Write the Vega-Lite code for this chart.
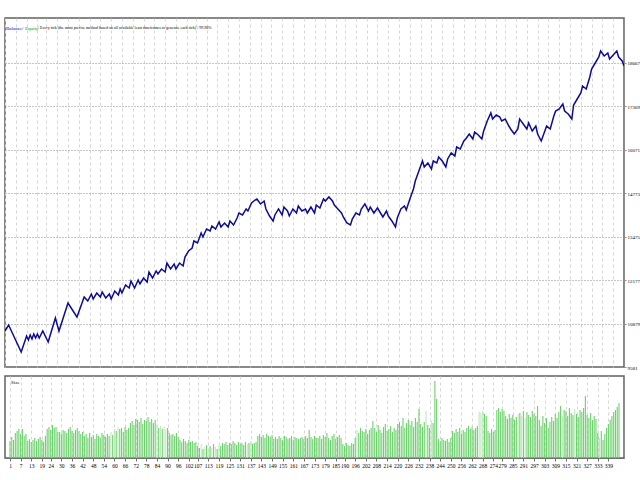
{
  "$schema": "https://vega.github.io/schema/vega-lite/v6.json",
  "background": "#ffffff",
  "padding": {"left": 4, "top": 17, "right": 0, "bottom": 0},
  "spacing": 4,
  "config": {
    "view": {"stroke": "#606060", "strokeWidth": 1.5, "fill": "#ffffff"},
    "axis": {"labelFont": "Liberation Sans Narrow", "labelFontSize": 6, "labelColor": "#000000", "title": null}
  },
  "vconcat": [
    {
      "width": 619,
      "height": 349,
      "layer": [
        {
          "data": {"values": [
            {"t":1,"v":10655},{"t":3,"v":10834},{"t":10,"v":10029},{"t":13,"v":10506},{"t":14,"v":10387},{"t":15,"v":10536},{"t":16,"v":10417},{"t":17,"v":10566},{"t":18,"v":10446},{"t":19,"v":10566},{"t":20,"v":10446},{"t":22,"v":10655},{"t":25,"v":10327},{"t":29,"v":11043},{"t":31,"v":10655},{"t":36,"v":11491},{"t":41,"v":11073},{"t":44,"v":11521},{"t":45,"v":11670},{"t":47,"v":11550},{"t":49,"v":11759},{"t":50,"v":11610},{"t":52,"v":11789},{"t":54,"v":11670},{"t":55,"v":11819},{"t":57,"v":11640},{"t":59,"v":11759},{"t":60,"v":11610},{"t":62,"v":11849},{"t":64,"v":11729},{"t":65,"v":11909},{"t":66,"v":11789},{"t":68,"v":12028},{"t":70,"v":11938},{"t":71,"v":12147},{"t":73,"v":11938},{"t":75,"v":12177},{"t":76,"v":12058},{"t":78,"v":12237},{"t":80,"v":12117},{"t":81,"v":12416},{"t":83,"v":12237},{"t":85,"v":12446},{"t":86,"v":12356},{"t":88,"v":12505},{"t":90,"v":12416},{"t":91,"v":12684},{"t":93,"v":12505},{"t":95,"v":12655},{"t":96,"v":12505},{"t":98,"v":12684},{"t":100,"v":12595},{"t":101,"v":12863},{"t":103,"v":13042},{"t":105,"v":13132},{"t":106,"v":13341},{"t":108,"v":13281},{"t":110,"v":13580},{"t":111,"v":13460},{"t":113,"v":13699},{"t":115,"v":13639},{"t":116,"v":13788},{"t":118,"v":13699},{"t":120,"v":13908},{"t":121,"v":13759},{"t":123,"v":13878},{"t":125,"v":13759},{"t":126,"v":13938},{"t":128,"v":13818},{"t":130,"v":14027},{"t":131,"v":14176},{"t":133,"v":14117},{"t":135,"v":14296},{"t":136,"v":14236},{"t":138,"v":14475},{"t":140,"v":14564},{"t":141,"v":14594},{"t":143,"v":14445},{"t":145,"v":14534},{"t":146,"v":14296},{"t":148,"v":14087},{"t":150,"v":13938},{"t":151,"v":14117},{"t":153,"v":14296},{"t":155,"v":14117},{"t":156,"v":14355},{"t":158,"v":14236},{"t":159,"v":14087},{"t":161,"v":14296},{"t":163,"v":14176},{"t":164,"v":14385},{"t":166,"v":14236},{"t":168,"v":14296},{"t":169,"v":14176},{"t":171,"v":14355},{"t":173,"v":14176},{"t":174,"v":14415},{"t":176,"v":14326},{"t":178,"v":14594},{"t":179,"v":14534},{"t":181,"v":14654},{"t":183,"v":14534},{"t":184,"v":14415},{"t":186,"v":14296},{"t":188,"v":14176},{"t":189,"v":14057},{"t":191,"v":13878},{"t":193,"v":13818},{"t":194,"v":13997},{"t":196,"v":14176},{"t":198,"v":14117},{"t":199,"v":14296},{"t":201,"v":14445},{"t":203,"v":14236},{"t":204,"v":14355},{"t":206,"v":14176},{"t":208,"v":14326},{"t":209,"v":14236},{"t":211,"v":14057},{"t":213,"v":14236},{"t":214,"v":14087},{"t":216,"v":13938},{"t":218,"v":13759},{"t":219,"v":14027},{"t":221,"v":14296},{"t":223,"v":14385},{"t":224,"v":14266},{"t":226,"v":14594},{"t":228,"v":14893},{"t":229,"v":15131},{"t":231,"v":15430},{"t":233,"v":15728},{"t":234,"v":15549},{"t":236,"v":15668},{"t":238,"v":15489},{"t":239,"v":15728},{"t":241,"v":15668},{"t":242,"v":15847},{"t":244,"v":15728},{"t":246,"v":15549},{"t":247,"v":15788},{"t":249,"v":15967},{"t":251,"v":15877},{"t":252,"v":16146},{"t":254,"v":16086},{"t":256,"v":16325},{"t":257,"v":16385},{"t":259,"v":16534},{"t":261,"v":16385},{"t":262,"v":16593},{"t":264,"v":16504},{"t":266,"v":16385},{"t":267,"v":16623},{"t":269,"v":16922},{"t":271,"v":17160},{"t":272,"v":16981},{"t":274,"v":17101},{"t":276,"v":17041},{"t":277,"v":16922},{"t":279,"v":16981},{"t":281,"v":16772},{"t":282,"v":16683},{"t":284,"v":16534},{"t":286,"v":16683},{"t":287,"v":16981},{"t":289,"v":16832},{"t":291,"v":16683},{"t":292,"v":16862},{"t":294,"v":16623},{"t":296,"v":16772},{"t":297,"v":16534},{"t":299,"v":16325},{"t":301,"v":16623},{"t":302,"v":16772},{"t":304,"v":16683},{"t":306,"v":17071},{"t":307,"v":17220},{"t":309,"v":17280},{"t":311,"v":17429},{"t":312,"v":17220},{"t":314,"v":17131},{"t":316,"v":16981},{"t":317,"v":17399},{"t":319,"v":17578},{"t":321,"v":17757},{"t":322,"v":17966},{"t":324,"v":17877},{"t":326,"v":18235},{"t":327,"v":18473},{"t":329,"v":18652},{"t":331,"v":18831},{"t":332,"v":19010},{"t":334,"v":18861},{"t":336,"v":18951},{"t":337,"v":18772},{"t":339,"v":18891},{"t":341,"v":19010},{"t":342,"v":18831},{"t":344,"v":18712},{"t":345,"v":18563}
          ]},
          "mark": {"type": "line", "color": "#0c0c94", "strokeWidth": 1.5, "clip": true},
          "encoding": {
            "x": {"field": "t", "type": "quantitative",
                  "scale": {"domain": [1, 345], "nice": false, "zero": false},
                  "axis": {"values": [1,7,13,19,24,30,36,42,48,54,60,66,72,78,84,90,96,102,107,113,119,125,131,137,143,149,155,161,167,173,179,185,190,196,202,208,214,220,226,232,238,244,250,256,262,268,274,279,285,291,297,303,309,315,321,327,333,339],
                           "tickCount": 200,
                           "grid": true, "gridDash": [3, 3], "gridColor": "#d6d6d6", "labels": false, "ticks": false, "domain": false}},
            "y": {"field": "v", "type": "quantitative",
                  "scale": {"domain": [9581, 19995], "nice": false, "zero": false},
                  "axis": {"orient": "right", "values": [9581,10879,12177,13475,14773,16071,17369,18667], "format": "d", "tickCount": 50,
                           "grid": true, "gridDash": [1, 2], "gridColor": "#8c8c8c", "tickSize": 2, "tickColor": "#8c8c8c",
                           "domainColor": "#8c8c8c", "labelPadding": 1, "labelFontSize": 5}}
          }
        },
        {
          "data": {"values": [{"label": "Balance"}]},
          "mark": {"type": "text", "align": "left", "baseline": "middle", "font": "Liberation Sans Narrow", "fontSize": 5, "color": "#0000c8", "dx": 1},
          "encoding": {"x": {"datum": 1, "type": "quantitative"}, "y": {"datum": 19697, "type": "quantitative"}, "text": {"field": "label"}}
        },
        {
          "data": {"values": [{"label": "/"}]},
          "mark": {"type": "text", "align": "left", "baseline": "middle", "font": "Liberation Sans Narrow", "fontSize": 5, "color": "#000000", "dx": 17},
          "encoding": {"x": {"datum": 1, "type": "quantitative"}, "y": {"datum": 19697, "type": "quantitative"}, "text": {"field": "label"}}
        },
        {
          "data": {"values": [{"label": "Equity"}]},
          "mark": {"type": "text", "align": "left", "baseline": "middle", "font": "Liberation Sans Narrow", "fontSize": 5, "color": "#00a000", "dx": 20},
          "encoding": {"x": {"datum": 1, "type": "quantitative"}, "y": {"datum": 19697, "type": "quantitative"}, "text": {"field": "label"}}
        },
        {
          "data": {"values": [{"label": "/ Every tick (the most precise method based on all available least timeframes to generate each tick) / 99.90%"}]},
          "mark": {"type": "text", "align": "left", "baseline": "middle", "font": "Liberation Sans Narrow", "fontSize": 4, "color": "#000000", "dx": 33},
          "encoding": {"x": {"datum": 1, "type": "quantitative"}, "y": {"datum": 19697, "type": "quantitative"}, "text": {"field": "label"}}
        }
      ]
    },
    {
      "width": 619,
      "height": 82,
      "layer": [
        {
          "data": {"values": [
{"t":1,"s":17,"c":"d"},{"t":2,"s":21,"c":"d"},{"t":3,"s":18,"c":"d"},{"t":4,"s":25,"c":"d"},{"t":5,"s":27,"c":"d"},{"t":6,"s":29,"c":"d"},{"t":7,"s":24,"c":"d"},{"t":8,"s":29,"c":"d"},{"t":9,"s":22,"c":"d"},{"t":10,"s":24,"c":"d"},
{"t":11,"s":17,"c":"d"},{"t":12,"s":19,"c":"d"},{"t":13,"s":16,"c":"d"},{"t":14,"s":18,"c":"d"},{"t":15,"s":20,"c":"d"},{"t":16,"s":17,"c":"d"},{"t":17,"s":19,"c":"d"},{"t":18,"s":21,"c":"d"},{"t":19,"s":18,"c":"d"},{"t":20,"s":16,"c":"d"},
{"t":21,"s":22,"c":"d"},{"t":22,"s":29,"c":"d"},{"t":23,"s":31,"c":"d"},{"t":24,"s":28,"c":"d"},{"t":25,"s":33,"c":"d"},{"t":26,"s":30,"c":"d"},{"t":27,"s":31,"c":"d"},{"t":28,"s":26,"c":"d"},
{"t":29,"s":26,"c":"d"},{"t":30,"s":24,"c":"d"},{"t":31,"s":28,"c":"d"},{"t":32,"s":27,"c":"d"},{"t":33,"s":25,"c":"d"},{"t":34,"s":29,"c":"d"},{"t":35,"s":31,"c":"d"},{"t":36,"s":27,"c":"d"},{"t":37,"s":25,"c":"d"},{"t":38,"s":28,"c":"d"},{"t":39,"s":30,"c":"d"},{"t":40,"s":27,"c":"d"},{"t":41,"s":24,"c":"d"},{"t":42,"s":26,"c":"d"},
{"t":43,"s":22,"c":"d"},{"t":44,"s":24,"c":"d"},{"t":45,"s":20,"c":"d"},{"t":46,"s":25,"c":"d"},{"t":47,"s":21,"c":"d"},{"t":48,"s":23,"c":"d"},{"t":49,"s":19,"c":"d"},{"t":50,"s":24,"c":"d"},{"t":51,"s":22,"c":"d"},{"t":52,"s":20,"c":"d"},{"t":53,"s":25,"c":"d"},{"t":54,"s":23,"c":"d"},{"t":55,"s":21,"c":"d"},{"t":56,"s":24,"c":"d"},{"t":57,"s":22,"c":"d"},{"t":58,"s":26,"c":"l"},{"t":59,"s":23,"c":"d"},
{"t":60,"s":29,"c":"l"},{"t":61,"s":27,"c":"d"},{"t":62,"s":31,"c":"l"},{"t":63,"s":29,"c":"d"},{"t":64,"s":30,"c":"d"},{"t":65,"s":26,"c":"d"},{"t":66,"s":31,"c":"d"},{"t":67,"s":28,"c":"d"},{"t":68,"s":30,"c":"d"},
{"t":69,"s":35,"c":"d"},{"t":70,"s":37,"c":"d"},{"t":71,"s":33,"c":"d"},{"t":72,"s":39,"c":"d"},{"t":73,"s":38,"c":"d"},{"t":74,"s":36,"c":"d"},{"t":75,"s":40,"c":"d"},{"t":76,"s":34,"c":"d"},{"t":77,"s":38,"c":"d"},{"t":78,"s":37,"c":"d"},{"t":79,"s":41,"c":"d"},{"t":80,"s":36,"c":"d"},{"t":81,"s":39,"c":"d"},{"t":82,"s":35,"c":"d"},{"t":83,"s":38,"c":"d"},{"t":84,"s":33,"c":"l"},
{"t":85,"s":30,"c":"d"},{"t":86,"s":32,"c":"l"},{"t":87,"s":29,"c":"d"},{"t":88,"s":31,"c":"l"},{"t":89,"s":28,"c":"l"},{"t":90,"s":30,"c":"d"},
{"t":91,"s":25,"c":"d"},{"t":92,"s":23,"c":"d"},{"t":93,"s":24,"c":"d"},{"t":94,"s":22,"c":"d"},{"t":95,"s":25,"c":"d"},{"t":96,"s":21,"c":"d"},
{"t":97,"s":18,"c":"d"},{"t":98,"s":16,"c":"d"},{"t":99,"s":19,"c":"d"},{"t":100,"s":17,"c":"d"},{"t":101,"s":15,"c":"d"},{"t":102,"s":18,"c":"d"},{"t":103,"s":16,"c":"d"},{"t":104,"s":17,"c":"d"},{"t":105,"s":15,"c":"d"},{"t":106,"s":16,"c":"d"},
{"t":107,"s":12,"c":"d"},{"t":108,"s":10,"c":"d"},{"t":109,"s":14,"c":"l"},{"t":110,"s":9,"c":"d"},{"t":111,"s":11,"c":"l"},{"t":112,"s":13,"c":"d"},{"t":113,"s":8,"c":"l"},{"t":114,"s":12,"c":"d"},{"t":115,"s":10,"c":"l"},{"t":116,"s":14,"c":"d"},{"t":117,"s":11,"c":"l"},{"t":118,"s":9,"c":"d"},{"t":119,"s":13,"c":"l"},{"t":120,"s":12,"c":"d"},
{"t":121,"s":15,"c":"d"},{"t":122,"s":14,"c":"d"},{"t":123,"s":16,"c":"d"},{"t":124,"s":13,"c":"d"},{"t":125,"s":15,"c":"d"},{"t":126,"s":14,"c":"d"},{"t":127,"s":17,"c":"d"},{"t":128,"s":15,"c":"d"},{"t":129,"s":13,"c":"d"},{"t":130,"s":16,"c":"d"},{"t":131,"s":14,"c":"d"},{"t":132,"s":15,"c":"d"},{"t":133,"s":13,"c":"d"},{"t":134,"s":16,"c":"d"},{"t":135,"s":14,"c":"l"},{"t":136,"s":15,"c":"d"},{"t":137,"s":17,"c":"l"},{"t":138,"s":14,"c":"d"},{"t":139,"s":15,"c":"d"},{"t":140,"s":16,"c":"d"},
{"t":141,"s":22,"c":"d"},{"t":142,"s":24,"c":"d"},{"t":143,"s":21,"c":"d"},{"t":144,"s":23,"c":"d"},{"t":145,"s":20,"c":"d"},{"t":146,"s":24,"c":"d"},{"t":147,"s":22,"c":"d"},{"t":148,"s":21,"c":"d"},{"t":149,"s":23,"c":"d"},{"t":150,"s":19,"c":"d"},
{"t":151,"s":21,"c":"d"},{"t":152,"s":19,"c":"d"},{"t":153,"s":22,"c":"d"},{"t":154,"s":20,"c":"d"},{"t":155,"s":18,"c":"d"},{"t":156,"s":22,"c":"d"},{"t":157,"s":21,"c":"d"},{"t":158,"s":19,"c":"d"},{"t":159,"s":20,"c":"d"},{"t":160,"s":22,"c":"d"},{"t":161,"s":18,"c":"d"},{"t":162,"s":21,"c":"d"},{"t":163,"s":20,"c":"d"},{"t":164,"s":19,"c":"d"},
{"t":165,"s":20,"c":"d"},{"t":166,"s":21,"c":"d"},{"t":167,"s":19,"c":"d"},{"t":168,"s":22,"c":"d"},{"t":169,"s":20,"c":"d"},{"t":170,"s":28,"c":"d"},{"t":171,"s":21,"c":"d"},{"t":172,"s":19,"c":"d"},{"t":173,"s":22,"c":"d"},{"t":174,"s":20,"c":"d"},
{"t":175,"s":20,"c":"d"},{"t":176,"s":22,"c":"d"},{"t":177,"s":19,"c":"d"},{"t":178,"s":23,"c":"d"},{"t":179,"s":21,"c":"d"},{"t":180,"s":25,"c":"d"},{"t":181,"s":20,"c":"d"},{"t":182,"s":18,"c":"d"},{"t":183,"s":22,"c":"d"},{"t":184,"s":24,"c":"d"},{"t":185,"s":19,"c":"d"},{"t":186,"s":21,"c":"d"},{"t":187,"s":23,"c":"d"},{"t":188,"s":20,"c":"d"},
{"t":189,"s":14,"c":"d"},{"t":190,"s":12,"c":"d"},{"t":191,"s":15,"c":"d"},{"t":192,"s":13,"c":"d"},{"t":193,"s":12,"c":"d"},{"t":194,"s":15,"c":"d"},{"t":195,"s":14,"c":"d"},{"t":196,"s":20,"c":"d"},
{"t":197,"s":28,"c":"l"},{"t":198,"s":25,"c":"d"},{"t":199,"s":30,"c":"d"},{"t":200,"s":27,"c":"d"},{"t":201,"s":26,"c":"d"},{"t":202,"s":29,"c":"d"},{"t":203,"s":24,"c":"d"},{"t":204,"s":28,"c":"d"},{"t":205,"s":30,"c":"d"},{"t":206,"s":37,"c":"d"},
{"t":207,"s":30,"c":"d"},{"t":208,"s":26,"c":"d"},{"t":209,"s":33,"c":"d"},{"t":210,"s":28,"c":"d"},{"t":211,"s":25,"c":"d"},{"t":212,"s":31,"c":"d"},{"t":213,"s":34,"c":"d"},{"t":214,"s":27,"c":"d"},{"t":215,"s":29,"c":"d"},{"t":216,"s":32,"c":"d"},{"t":217,"s":26,"c":"d"},{"t":218,"s":30,"c":"d"},{"t":219,"s":28,"c":"d"},{"t":220,"s":34,"c":"d"},
{"t":221,"s":36,"c":"d"},{"t":222,"s":32,"c":"d"},{"t":223,"s":40,"c":"d"},{"t":224,"s":30,"c":"d"},{"t":225,"s":35,"c":"d"},{"t":226,"s":38,"c":"d"},{"t":227,"s":33,"c":"d"},{"t":228,"s":37,"c":"d"},{"t":229,"s":31,"c":"d"},{"t":230,"s":40,"c":"d"},{"t":231,"s":36,"c":"d"},{"t":232,"s":49,"c":"d"},
{"t":233,"s":34,"c":"d"},{"t":234,"s":31,"c":"d"},{"t":235,"s":36,"c":"d"},{"t":236,"s":47,"c":"l"},{"t":237,"s":33,"c":"d"},{"t":238,"s":30,"c":"d"},{"t":239,"s":37,"c":"l"},{"t":240,"s":35,"c":"d"},
{"t":241,"s":77,"c":"d"},{"t":242,"s":59,"c":"d"},
{"t":243,"s":19,"c":"d"},{"t":244,"s":17,"c":"d"},{"t":245,"s":20,"c":"d"},{"t":246,"s":18,"c":"d"},{"t":247,"s":17,"c":"d"},{"t":248,"s":19,"c":"d"},{"t":249,"s":16,"c":"d"},{"t":250,"s":20,"c":"d"},
{"t":251,"s":27,"c":"d"},{"t":252,"s":25,"c":"d"},{"t":253,"s":29,"c":"d"},{"t":254,"s":26,"c":"d"},{"t":255,"s":30,"c":"d"},{"t":256,"s":24,"c":"d"},{"t":257,"s":28,"c":"d"},{"t":258,"s":26,"c":"d"},
{"t":259,"s":30,"c":"d"},{"t":260,"s":32,"c":"d"},{"t":261,"s":29,"c":"d"},{"t":262,"s":31,"c":"d"},{"t":263,"s":28,"c":"d"},{"t":264,"s":30,"c":"d"},{"t":265,"s":32,"c":"d"},
{"t":266,"s":46,"c":"l"},{"t":267,"s":45,"c":"l"},{"t":268,"s":47,"c":"l"},{"t":269,"s":44,"c":"d"},{"t":270,"s":42,"c":"d"},
{"t":271,"s":27,"c":"d"},{"t":272,"s":25,"c":"d"},{"t":273,"s":29,"c":"d"},{"t":274,"s":26,"c":"d"},{"t":275,"s":28,"c":"d"},
{"t":276,"s":48,"c":"d"},{"t":277,"s":50,"c":"d"},{"t":278,"s":46,"c":"d"},{"t":279,"s":49,"c":"d"},{"t":280,"s":47,"c":"d"},
{"t":281,"s":42,"c":"d"},{"t":282,"s":39,"c":"d"},{"t":283,"s":44,"c":"d"},{"t":284,"s":40,"c":"d"},{"t":285,"s":43,"c":"d"},{"t":286,"s":38,"c":"d"},{"t":287,"s":41,"c":"d"},{"t":288,"s":44,"c":"l"},
{"t":289,"s":45,"c":"d"},{"t":290,"s":42,"c":"l"},{"t":291,"s":47,"c":"d"},{"t":292,"s":40,"c":"l"},{"t":293,"s":46,"c":"d"},{"t":294,"s":43,"c":"d"},{"t":295,"s":41,"c":"d"},{"t":296,"s":47,"c":"d"},{"t":297,"s":44,"c":"d"},{"t":298,"s":42,"c":"d"},{"t":299,"s":52,"c":"d"},
{"t":300,"s":38,"c":"d"},{"t":301,"s":32,"c":"d"},{"t":302,"s":42,"c":"d"},{"t":303,"s":35,"c":"d"},{"t":304,"s":40,"c":"d"},{"t":305,"s":30,"c":"d"},{"t":306,"s":36,"c":"d"},{"t":307,"s":41,"c":"d"},{"t":308,"s":37,"c":"d"},
{"t":309,"s":44,"c":"d"},{"t":310,"s":40,"c":"d"},{"t":311,"s":46,"c":"d"},{"t":312,"s":52,"c":"d"},{"t":313,"s":42,"c":"l"},{"t":314,"s":48,"c":"d"},
{"t":315,"s":47,"c":"d"},{"t":316,"s":42,"c":"d"},{"t":317,"s":50,"c":"d"},{"t":318,"s":45,"c":"d"},{"t":319,"s":43,"c":"d"},{"t":320,"s":49,"c":"l"},{"t":321,"s":44,"c":"d"},{"t":322,"s":41,"c":"d"},{"t":323,"s":48,"c":"d"},{"t":324,"s":46,"c":"d"},{"t":325,"s":50,"c":"d"},
{"t":326,"s":62,"c":"d"},
{"t":327,"s":43,"c":"d"},{"t":328,"s":40,"c":"d"},{"t":329,"s":45,"c":"d"},{"t":330,"s":38,"c":"d"},{"t":331,"s":42,"c":"d"},{"t":332,"s":39,"c":"d"},
{"t":333,"s":25,"c":"d"},{"t":334,"s":20,"c":"l"},{"t":335,"s":27,"c":"d"},{"t":336,"s":18,"c":"d"},{"t":337,"s":24,"c":"d"},
{"t":338,"s":30,"c":"d"},{"t":339,"s":34,"c":"d"},{"t":340,"s":38,"c":"d"},{"t":341,"s":42,"c":"d"},{"t":342,"s":46,"c":"d"},{"t":343,"s":48,"c":"d"},{"t":344,"s":51,"c":"d"},{"t":345,"s":55,"c":"d"}
          ]},
          "mark": {"type": "bar", "width": 1.1, "clip": true},
          "encoding": {
            "x": {"field": "t", "type": "quantitative",
                  "scale": {"domain": [1, 345], "nice": false, "zero": false},
                  "axis": {"values": [1,7,13,19,24,30,36,42,48,54,60,66,72,78,84,90,96,102,107,113,119,125,131,137,143,149,155,161,167,173,179,185,190,196,202,208,214,220,226,232,238,244,250,256,262,268,274,279,285,291,297,303,309,315,321,327,333,339],
                           "tickCount": 200,
                           "grid": true, "gridDash": [3, 3], "gridColor": "#d6d6d6", "labelOverlap": false, "labelAngle": 0,
                           "labelFontSize": 5.5,
                           "tickSize": 3, "tickColor": "#707070", "domainColor": "#707070", "labelPadding": 2}},
            "y": {"field": "s", "type": "quantitative",
                  "scale": {"domain": [0, 82], "nice": false},
                  "axis": {"orient": "right", "labels": false, "ticks": false, "grid": false, "domainColor": "#8c8c8c"}},
            "color": {"field": "c", "type": "nominal",
                      "scale": {"domain": ["d", "l"], "range": ["#6cd06c", "#bfe8bf"]}, "legend": null}
          }
        },
        {
          "data": {"values": [{"label": "Size"}]},
          "mark": {"type": "text", "align": "left", "baseline": "middle", "font": "Liberation Sans Narrow", "fontSize": 5, "color": "#000000", "dx": 1},
          "encoding": {"x": {"datum": 1, "type": "quantitative"}, "y": {"datum": 76, "type": "quantitative"}, "text": {"field": "label"}}
        }
      ]
    }
  ]
}
